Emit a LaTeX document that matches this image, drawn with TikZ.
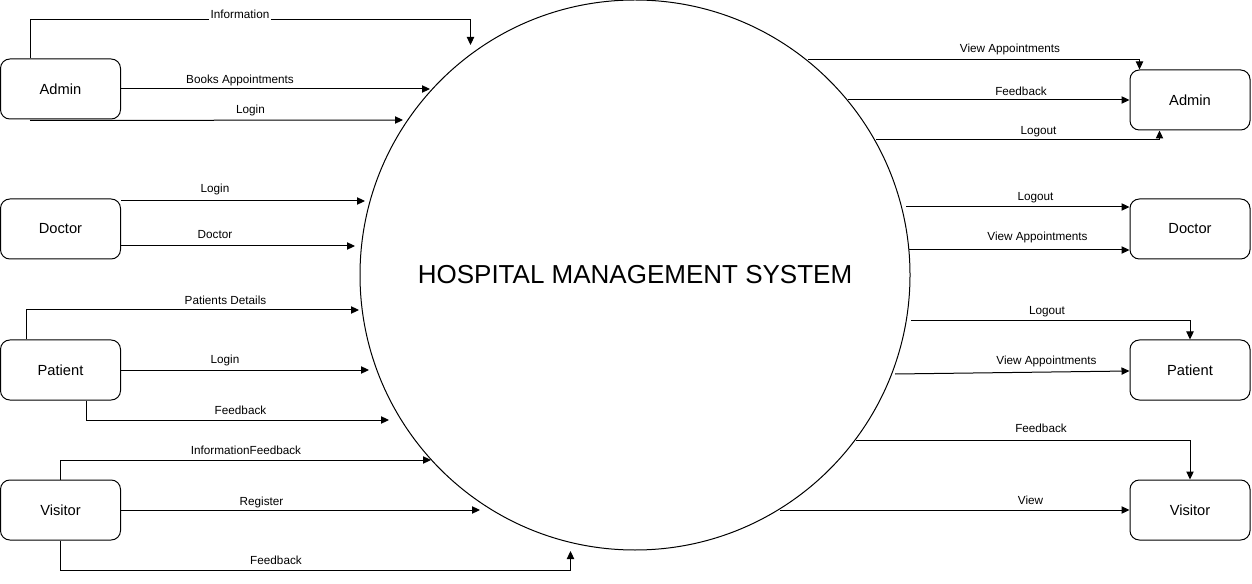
\documentclass[tikz,border=0pt]{standalone}
\usepackage{fontspec}
\setmainfont{Liberation Sans}
\usepackage{xcolor}
\usepackage{tikz}
\usetikzlibrary{arrows.meta,calc}
\definecolor{inkK}{HTML}{000000}

\begin{document}
\begin{tikzpicture}[x=0.75pt,y=-0.75pt,
    entity/.style={draw=inkK, fill=white, rounded corners=7pt, line width=0.75pt,
      minimum width=90pt, minimum height=45pt, inner sep=0pt,
      font=\fontsize{11}{13}\selectfont, text=inkK},
    process/.style={draw=inkK, circle, minimum size=412.5pt, inner sep=0pt,
      line width=0.75pt, font=\fontsize{19.5}{22}\selectfont, text=inkK},
    flow/.style={draw=inkK, line width=0.75pt,
      -{Triangle[length=6pt,width=5.5pt]}},
    lbl/.style={fill=white, inner sep=0pt, text=inkK,
      font=\fontsize{8.8}{10}\selectfont}]
  \useasboundingbox (0,0) rectangle (1252,584);

  % central process
  \node[process] (hms) at (635,275) {HOSPITAL MANAGEMENT SYSTEM};

  % external entities, left
  \node[entity] (adminL)   at (60.5,89)  {Admin};
  \node[entity] (doctorL)  at (60.5,229) {Doctor};
  \node[entity] (patientL) at (60.5,370) {Patient};
  \node[entity] (visitorL) at (60.5,510) {Visitor};

  % external entities, right
  \node[entity] (adminR)   at (1190,100) {Admin};
  \node[entity] (doctorR)  at (1190,229) {Doctor};
  \node[entity] (patientR) at (1190,370) {Patient};
  \node[entity] (visitorR) at (1190,510) {Visitor};

  % arrow ends at the process
  \coordinate (tInfo) at (470.5,45);
  \coordinate (tBook) at (430,89);
  \coordinate (tALog) at (403,120);
  \coordinate (tDLog) at (365,201);
  \coordinate (tDoc)  at (355,246);
  \coordinate (tPDet) at (359,310);
  \coordinate (tPLog) at (369,370);
  \coordinate (tPFb)  at (389,420);
  \coordinate (tVInf) at (431,460);
  \coordinate (tReg)  at (480,510);
  \coordinate (tVFb)  at (570.5,551);

  % arrow starts at the process
  \coordinate (sAVA)  at (808,60);
  \coordinate (sAFb)  at (848,100);
  \coordinate (sALo)  at (876,140);
  \coordinate (sDLo)  at (906,207);
  \coordinate (sDVA)  at (909,250);
  \coordinate (sPLo)  at (911,321);
  \coordinate (sPVA)  at (895,374);
  \coordinate (sVFb)  at (856,440);
  \coordinate (sView) at (780,510);

  % flows into the system
  \draw[flow] ($(adminL.north west)+(30,0)$) -- ++(0,-39) -| (tInfo);
  \draw[flow] (adminL.east |- tBook) -- (tBook);
  \draw[flow] ($(adminL.south west)+(30,1)$) -- (tALog);
  \draw[flow] (doctorL.east |- tDLog) -- (tDLog);
  \draw[flow] (doctorL.east |- tDoc) -- (tDoc);
  \draw[flow] ($(patientL.north west)+(26,0)$) |- (tPDet);
  \draw[flow] (patientL.east |- tPLog) -- (tPLog);
  \draw[flow] ($(patientL.south west)+(86,0)$) |- (tPFb);
  \draw[flow] ($(visitorL.north west)+(60,0)$) |- (tVInf);
  \draw[flow] (visitorL.east |- tReg) -- (tReg);
  \draw[flow] ($(visitorL.south west)+(60,0)$) -- ++(0,30) -| (tVFb);

  % flows out of the system
  \draw[flow] (sAVA) -| ($(adminR.north west)+(10,0)$);
  \draw[flow] (sAFb) -- (sAFb -| adminR.west);
  \draw[flow] (sALo) -| ($(adminR.south west)+(30,0)$);
  \draw[flow] (sDLo) -- (sDLo -| doctorR.west);
  \draw[flow] (sDVA) -- (sDVA -| doctorR.west);
  \draw[flow] (sPLo) -| (patientR.north);
  \draw[flow] (sPVA) -- ($(patientR.west)+(0,1)$);
  \draw[flow] (sVFb) -| (visitorR.north);
  \draw[flow] (sView) -- (sView -| visitorR.west);

  % flow labels
  \node[lbl, inner xsep=1.5pt, inner ysep=2.5pt] (lInfo) at (240,14) {Information};
  \node[lbl] (lBook)  at (240,80.5)  {Books Appointments};
  \node[lbl] (lALog)  at (250.5,110) {Login};
  \node[lbl] (lDLog)  at (215,189.5) {Login};
  \node[lbl] (lDoc)   at (215,234.5) {Doctor};
  \node[lbl] (lPDet)  at (225.5,300.5) {Patients Details};
  \node[lbl] (lPLog)  at (225,360.5) {Login};
  \node[lbl] (lPFb)   at (240.5,410.5) {Feedback};
  \node[lbl] (lVInf)  at (246,450.5) {InformationFeedback};
  \node[lbl] (lReg)   at (261.5,502.5) {Register};
  \node[lbl] (lVFb)   at (276,560.5) {Feedback};

  \node[lbl] (lAVA)   at (1010,49.5)  {View Appointments};
  \node[lbl] (lAFb)   at (1021,91.5)  {Feedback};
  \node[lbl] (lALo)   at (1038.5,131.5) {Logout};
  \node[lbl] (lDLo)   at (1035.5,197.5) {Logout};
  \node[lbl] (lDVA)   at (1037.5,237.5) {View Appointments};
  \node[lbl] (lPLo)   at (1047,311.5) {Logout};
  \node[lbl] (lPVA)   at (1046.5,361) {View Appointments};
  \node[lbl] (lVFbR)  at (1041,428.5) {Feedback};
  \node[lbl] (lView)  at (1030.5,500) {View};
\end{tikzpicture}
\end{document}
